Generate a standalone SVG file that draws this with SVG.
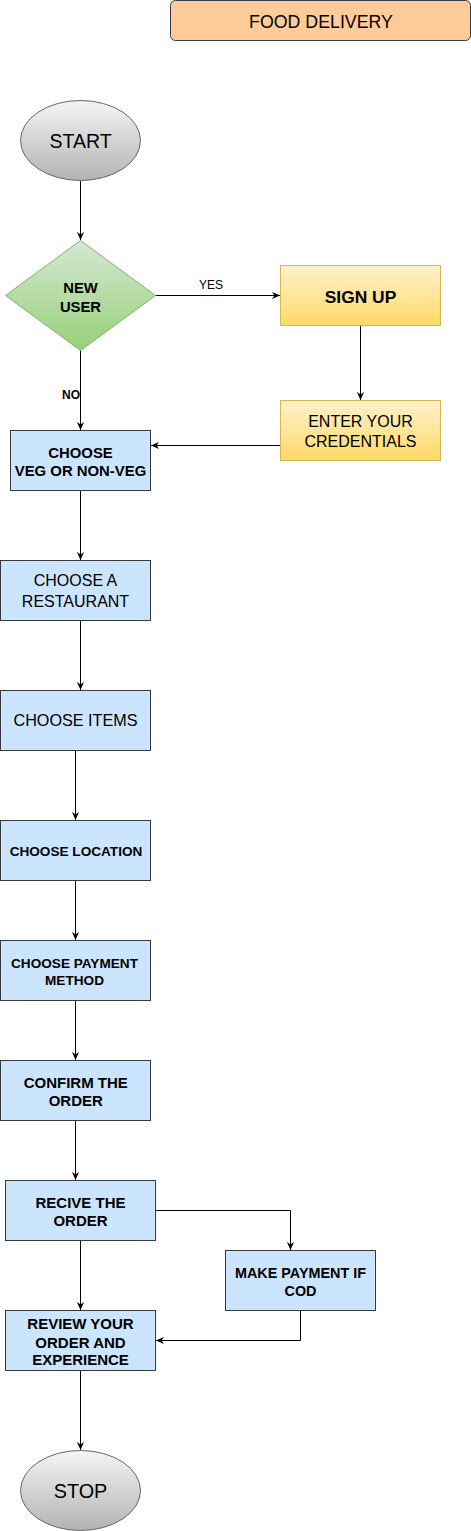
<svg xmlns="http://www.w3.org/2000/svg" width="471" height="1531" viewBox="0 0 471 1531">
<style>
text{font-family:"Liberation Sans",Arial,sans-serif;fill:#000;text-anchor:middle}
.b{font-weight:bold}
.box{fill:#cce5ff;stroke:#36393d;stroke-width:1}
.yel{fill:url(#gY);stroke:#d6b656;stroke-width:1}
.term{fill:url(#gG);stroke:#666666;stroke-width:1}
.c{fill:none;stroke:#000;stroke-width:1}
</style>
<defs>
<linearGradient id="gG" x1="0" y1="0" x2="0" y2="1"><stop offset="0" stop-color="#f5f5f5"/><stop offset="1" stop-color="#b3b3b3"/></linearGradient>
<linearGradient id="gD" x1="0" y1="0" x2="0" y2="1"><stop offset="0" stop-color="#d5e8d4"/><stop offset="1" stop-color="#97d077"/></linearGradient>
<linearGradient id="gY" x1="0" y1="0" x2="0" y2="1"><stop offset="0" stop-color="#fff2cc"/><stop offset="1" stop-color="#ffd966"/></linearGradient>
<marker id="ar" viewBox="0 0 10 10" refX="10" refY="5" markerWidth="8" markerHeight="8" markerUnits="userSpaceOnUse" orient="auto">
<path d="M0,0.5 L10,5 L0,9.5 L3,5 Z" fill="#000"/>
</marker>
</defs>
<g id="title">
<rect x="170.5" y="0.5" width="300" height="40" rx="5" fill="#ffcc99" stroke="#36393d"/>
<text x="321" y="28" style="font-size:17.8px">FOOD DELIVERY</text>
</g>
<g id="connectors">
<path class="c" d="M80.5,181 V240" marker-end="url(#ar)"/>
<path class="c" d="M155.5,295.5 H280" marker-end="url(#ar)"/>
<path class="c" d="M360.5,325 V400" marker-end="url(#ar)"/>
<path class="c" d="M280,445.5 H151" marker-end="url(#ar)"/>
<path class="c" d="M80.5,350 V430" marker-end="url(#ar)"/>
<path class="c" d="M80.5,490 V560" marker-end="url(#ar)"/>
<path class="c" d="M80.5,620 V690" marker-end="url(#ar)"/>
<path class="c" d="M75.5,750 V820" marker-end="url(#ar)"/>
<path class="c" d="M75.5,880 V940" marker-end="url(#ar)"/>
<path class="c" d="M75.5,1000 V1060" marker-end="url(#ar)"/>
<path class="c" d="M75.5,1120 V1180" marker-end="url(#ar)"/>
<path class="c" d="M155.5,1210.5 H290.5 V1250" marker-end="url(#ar)"/>
<path class="c" d="M80.5,1240 V1310" marker-end="url(#ar)"/>
<path class="c" d="M300.5,1310 V1340.5 H156" marker-end="url(#ar)"/>
<path class="c" d="M80.5,1370 V1450" marker-end="url(#ar)"/>
<text x="211" y="289" style="font-size:12px">YES</text>
<text x="71" y="399" class="b" style="font-size:12px">NO</text>
</g>
<g id="start">
<ellipse cx="80.5" cy="140.5" rx="60" ry="40" class="term"/>
<text x="80.5" y="148.3" style="font-size:19.5px">START</text>
</g>
<g id="new-user">
<polygon points="5.5,295.5 80.5,240.5 155.5,295.5 80.5,350.5" fill="url(#gD)" stroke="#82b366"/>
<text x="80.5" y="293.3" class="b" style="font-size:14.8px">NEW</text>
<text x="80.5" y="311.7" class="b" style="font-size:14.8px">USER</text>
</g>
<g id="sign-up">
<rect x="280.5" y="265.5" width="160" height="60" class="yel"/>
<text x="360.5" y="302.5" class="b" style="font-size:17.4px">SIGN UP</text>
</g>
<g id="credentials">
<rect x="280.5" y="400.5" width="160" height="60" class="yel"/>
<text x="360.5" y="427.3" style="font-size:16px">ENTER YOUR</text>
<text x="360.5" y="446.7" style="font-size:16px">CREDENTIALS</text>
</g>
<g id="veg">
<rect x="10.5" y="430.5" width="140" height="60" class="box"/>
<text x="80.5" y="458.3" class="b" style="font-size:14.9px">CHOOSE</text>
<text x="80.5" y="476" class="b" style="font-size:14.9px">VEG OR NON-VEG</text>
</g>
<g id="restaurant">
<rect x="0.5" y="560.5" width="150" height="60" class="box"/>
<text x="75.5" y="586" style="font-size:16px">CHOOSE A</text>
<text x="75.5" y="606.5" style="font-size:16px">RESTAURANT</text>
</g>
<g id="items">
<rect x="0.5" y="690.5" width="150" height="60" class="box"/>
<text x="75.5" y="726" style="font-size:16.2px">CHOOSE ITEMS</text>
</g>
<g id="location">
<rect x="0.5" y="820.5" width="150" height="60" class="box"/>
<text x="76" y="856" class="b" style="font-size:13.6px">CHOOSE LOCATION</text>
</g>
<g id="payment-method">
<rect x="0.5" y="940.5" width="150" height="60" class="box"/>
<text x="74.5" y="968.3" class="b" style="font-size:13.6px">CHOOSE PAYMENT</text>
<text x="74.5" y="985" class="b" style="font-size:13.6px">METHOD</text>
</g>
<g id="confirm">
<rect x="0.5" y="1060.5" width="150" height="60" class="box"/>
<text x="75.8" y="1088.3" class="b" style="font-size:15px">CONFIRM THE</text>
<text x="75.8" y="1106" class="b" style="font-size:15px">ORDER</text>
</g>
<g id="receive">
<rect x="5.5" y="1180.5" width="150" height="60" class="box"/>
<text x="80.5" y="1208.3" class="b" style="font-size:15px">RECIVE THE</text>
<text x="80.5" y="1226" class="b" style="font-size:15px">ORDER</text>
</g>
<g id="cod">
<rect x="225.5" y="1250.5" width="150" height="60" class="box"/>
<text x="300.5" y="1278.3" class="b" style="font-size:14.4px">MAKE PAYMENT IF</text>
<text x="300.5" y="1296" class="b" style="font-size:14.4px">COD</text>
</g>
<g id="review">
<rect x="5.5" y="1310.5" width="150" height="60" class="box"/>
<text x="80.5" y="1329.3" class="b" style="font-size:15px">REVIEW YOUR</text>
<text x="80.5" y="1347.5" class="b" style="font-size:15px">ORDER AND</text>
<text x="80.5" y="1365" class="b" style="font-size:15px">EXPERIENCE</text>
</g>
<g id="stop">
<ellipse cx="80.5" cy="1490.5" rx="60" ry="40" class="term"/>
<text x="80.5" y="1498.3" style="font-size:19.8px">STOP</text>
</g>
</svg>
